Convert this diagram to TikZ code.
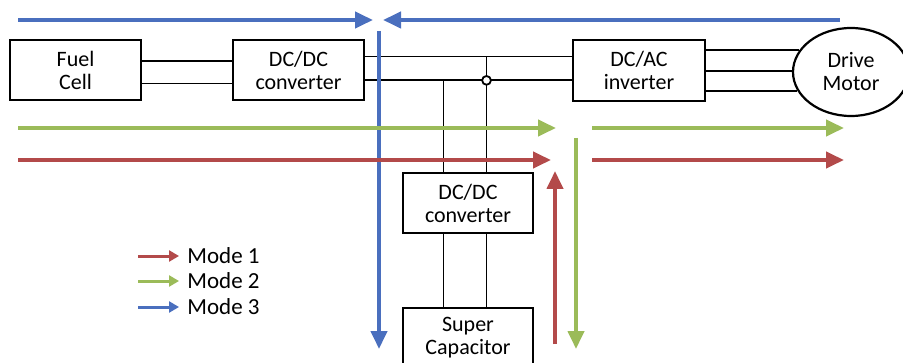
\documentclass[tikz,border=0pt]{standalone}
\usepackage{fontspec}
\setmainfont{Carlito}
\usetikzlibrary{arrows.meta,shapes.geometric,calc}
\definecolor{modeR}{HTML}{B34A4A}
\definecolor{modeG}{HTML}{9BBB59}
\definecolor{modeB}{HTML}{4A6FBE}
\tikzset{
  blk/.style={draw=black, line width=1.1pt, minimum width=65.5pt, minimum height=30pt,
    align=center, inner sep=0pt, font=\fontsize{11}{11.5}\selectfont},
  wire/.style={line width=0.9pt},
  flow/.style={line width=2pt, -{Triangle[length=9pt,width=8pt]}},
  key/.style={line width=1.5pt, -{Triangle[length=5pt,width=5.5pt]}},
  keytext/.style={anchor=west, inner sep=0pt, font=\fontsize{11.5}{12}\selectfont},
}
\begin{document}
\begin{tikzpicture}[x=0.5pt,y=-0.5pt]
\useasboundingbox (0,0) rectangle (903,363);
\clip (0,0) rectangle (903,363);
\fill[white] (0,0) rectangle (903,363);

% blocks
\node[blk] (fc)  at (75.5,70)  {Fuel\\Cell};
\node[blk] (dc1) at (298.5,70) {DC/DC\\converter};
\node[blk, minimum width=66pt, minimum height=30.5pt] (inv) at (639,70.5) {DC/AC\\inverter};
\node[blk, minimum width=65pt] (dc2) at (468,203) {DC/DC\\converter};
\node[blk, minimum width=65pt] (sc)  at (468,338) {Super\\Capacitor};
\node[blk, ellipse, minimum width=58pt, minimum height=44pt] (motor) at (851,72) {Drive\\Motor};

% fuel cell to converter
\draw[wire] ($(fc.north east)!0.35!(fc.south east)$) coordinate (fa) -- (fa -| dc1.west);
\draw[wire] ($(fc.north east)!0.717!(fc.south east)$) coordinate (fb) -- (fb -| dc1.west);

% DC bus to inverter
\coordinate (ba) at ($(dc1.north east)!0.283!(dc1.south east)$);
\coordinate (bb) at ($(dc1.north east)!0.667!(dc1.south east)$);
\draw[wire] (ba) -- (ba -| inv.west);
\draw[wire] (bb) -- (bb -| inv.west);

% taps down to the storage converter
\coordinate (tl) at ($(dc2.north west)!0.315!(dc2.north east)$);
\coordinate (tr) at ($(dc2.north west)!0.64!(dc2.north east)$);
\draw[wire] (tl) -- (tl |- bb);
\draw[wire] (tr) -- (tr |- ba);
\draw[wire, fill=white] (tr |- bb) circle[radius=2.2pt];

% converter to super capacitor
\coordinate (ul) at ($(dc2.south west)!0.315!(dc2.south east)$);
\coordinate (ur) at ($(dc2.south west)!0.64!(dc2.south east)$);
\draw[wire] (ul) -- (ul |- sc.north);
\draw[wire] (ur) -- (ur |- sc.north);

% inverter to motor (three phases)
\draw[wire] ($(inv.north east)!0.18!(inv.south east)$) coordinate (pa) -- (pa -| motor.157);
\draw[wire] ($(inv.north east)!0.508!(inv.south east)$) coordinate (pb) -- (pb -| motor.west);
\draw[wire] ($(inv.north east)!0.82!(inv.south east)$) coordinate (pc) -- (pc -| motor.199);

% power flow, mode 3
\coordinate (m3a) at (18,20);   \coordinate (m3b) at (373,20);
\coordinate (m3c) at (840,20);  \coordinate (m3d) at (383,20);
\coordinate (m3e) at (379,31);  \coordinate (m3f) at (379,349);
\draw[flow, modeB] (m3a) -- (m3b);
\draw[flow, modeB] (m3c) -- (m3d);
\draw[flow, modeB] (m3e) -- (m3f);

% power flow, mode 2
\coordinate (m2a) at (18,128);  \coordinate (m2b) at (556,128);
\coordinate (m2c) at (592,128); \coordinate (m2d) at (844,128);
\coordinate (m2e) at (576,138); \coordinate (m2f) at (576,349);
\draw[flow, modeG] (m2a) -- (m2b);
\draw[flow, modeG] (m2c) -- (m2d);
\draw[flow, modeG] (m2e) -- (m2f);

% power flow, mode 1
\coordinate (m1a) at (18,160);  \coordinate (m1b) at (551,160);
\coordinate (m1c) at (592,160); \coordinate (m1d) at (844,160);
\coordinate (m1e) at (555,344); \coordinate (m1f) at (555,171);
\draw[flow, modeR] (m1a) -- (m1b);
\draw[flow, modeR] (m1c) -- (m1d);
\draw[flow, modeR] (m1e) -- (m1f);

% legend
\coordinate (k1a) at (138,256); \coordinate (k1b) at (179,256);
\coordinate (k2a) at (138,281); \coordinate (k2b) at (179,281);
\coordinate (k3a) at (138,307); \coordinate (k3b) at (179,307);
\draw[key, modeR] (k1a) -- (k1b);
\draw[key, modeG] (k2a) -- (k2b);
\draw[key, modeB] (k3a) -- (k3b);
\node[keytext] (l1) at (187,256) {Mode 1};
\node[keytext] (l2) at (187,281) {Mode 2};
\node[keytext] (l3) at (187,307) {Mode 3};
\end{tikzpicture}
\end{document}
